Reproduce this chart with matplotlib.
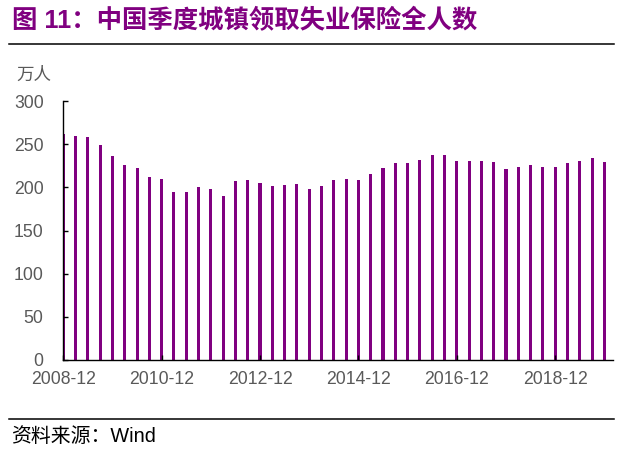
import numpy as np
import matplotlib
matplotlib.use("Agg")
import matplotlib.pyplot as plt
from matplotlib.lines import Line2D

plt.rcParams['font.family'] = ['Liberation Sans', 'Noto Sans CJK SC', 'DejaVu Sans']

# 季度数据 2008-12 .. 2019-12
quarters = ["%d-%02d" % (2008 + (i + 3) // 4, [12, 3, 6, 9][i % 4]) for i in range(45)]
values = [262, 259, 258, 249, 236, 226, 222, 212, 210, 195,
          195, 200, 198, 190, 207, 208, 205, 201, 203, 204,
          198, 202, 209, 210, 209, 215, 222, 228, 228, 232,
          238, 238, 230, 230, 230, 229, 221, 223, 226, 224,
          223, 228, 230, 234, 229]
tick_labels = ["2008-12", "2010-12", "2012-12", "2014-12", "2016-12", "2018-12"]

purple = "#800080"
gray = "#595959"

fig = plt.figure(figsize=(6.31, 4.59), dpi=100)
ax = fig.add_axes([63 / 631, 1 - 360 / 459, 550 / 631, 259 / 459])

x = np.arange(len(values))
ax.bar(x, values, width=0.25, color=purple, zorder=1)

ax.set_xlim(-0.02, 44.7)
ax.set_ylim(0, 300)
ax.set_yticks(np.arange(0, 301, 50))
ax.set_xticks([quarters.index(t) for t in tick_labels])
ax.set_xticklabels(tick_labels)

for s in ("top", "right"):
    ax.spines[s].set_visible(False)
for s in ("left", "bottom"):
    ax.spines[s].set_linewidth(1.0)
    ax.spines[s].set_color("black")
    ax.spines[s].set_zorder(3)

ax.tick_params(axis="y", direction="in", length=3.5, width=1.0, pad=14,
               labelsize=12.7, labelcolor=gray)
ax.tick_params(axis="x", direction="in", length=3.5, width=1.0, pad=8,
               labelsize=12.7, labelcolor=gray)

fig.text(34 / 631, 1 - 75 / 459, "万人", ha="center", va="center",
         fontsize=12.6, color=gray, family=['Noto Sans CJK SC'])

# 标题
fig.text(12 / 631, 1 - 21 / 459, "图 11：中国季度城镇领取失业保险全人数",
         ha="left", va="center", fontsize=18.3, fontweight="bold", color=purple,
         family=['Liberation Sans', 'Noto Sans CJK SC'])

fig.add_artist(Line2D([9 / 631, 614 / 631], [1 - 44 / 459] * 2,
                      color="black", linewidth=1.1, transform=fig.transFigure))
fig.add_artist(Line2D([9 / 631, 614 / 631], [1 - 419 / 459] * 2,
                      color="black", linewidth=1.1, transform=fig.transFigure))

fig.text(11 / 631, 1 - 437 / 459, "资料来源：Wind", ha="left", va="center",
         fontsize=14.3, color="black", family=['Liberation Sans', 'Noto Sans CJK SC'])

fig.savefig("out.png", dpi=100)
